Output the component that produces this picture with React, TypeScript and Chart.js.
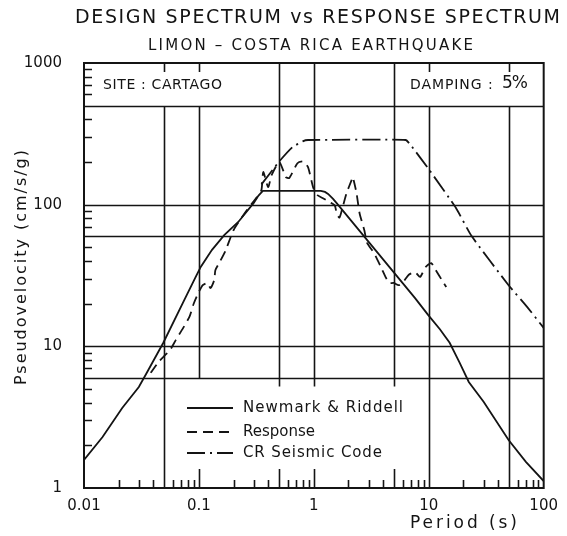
import React, { useEffect, useRef } from "react";
import { Chart, registerables } from "chart.js";

Chart.register(...registerables);

// ---------- data ----------
const newmarkPeriod = [0.01, 0.0145, 0.0215, 0.03, 0.035, 0.049, 0.0745, 0.094, 0.104, 0.13, 0.166, 0.22, 0.3, 0.33, 0.36, 1.15, 1.25, 1.33, 1.47, 1.58, 7.6, 9.9, 12.5, 15.2, 18.5, 22.3, 30, 49.5, 70, 100];
const newmarkPsv = [1.58, 2.29, 3.67, 5.16, 6.45, 10.6, 21.2, 31, 36.5, 48, 61, 75.5, 103, 116, 125, 125, 123, 119, 110, 102.6, 21.9, 16.6, 13.2, 10.6, 7.7, 5.6, 4.06, 2.18, 1.53, 1.12];

const responsePeriod = [0.038, 0.0445, 0.051, 0.056, 0.063, 0.073, 0.083, 0.09, 0.098, 0.108, 0.119, 0.126, 0.136, 0.139, 0.15, 0.17, 0.2, 0.26, 0.32, 0.35, 0.363, 0.4, 0.43, 0.5, 0.57, 0.61, 0.72, 0.81, 0.89, 0.99, 1.07, 1.2, 1.38, 1.52, 1.58, 1.67, 1.78, 1.93, 2.13, 2.18, 2.35, 2.5, 2.75, 2.9, 3.34, 3.83, 4.25, 4.5, 4.96, 5.47, 6.0, 6.7, 7.6, 8.4, 9.4, 10.5, 11.5, 13.3, 14.2];
const responsePsv = [6.5, 7.75, 8.7, 9.4, 11.1, 13.5, 16.3, 20, 23.5, 27, 28, 25.8, 29.4, 34.5, 38.7, 47, 66, 91, 113, 127, 170, 133, 162, 200, 157, 154, 196, 202, 184, 131, 117, 111, 104, 99, 87, 81, 96, 121, 149, 157, 121, 87, 66, 54, 45.5, 36.3, 30.4, 28, 28, 27, 28.5, 32, 33.4, 30.9, 36.3, 38.7, 34.5, 28.5, 26.2];

const codePeriod = [0.35, 0.495, 0.65, 0.8, 0.89, 6.3, 7.0, 10.1, 17.2, 23.6, 49.5, 72, 100];
const codePsv = [139, 200, 254, 280, 286, 286, 262, 176, 95, 60, 27, 18.9, 13.5];

const xTickValues = [0.01, 0.1, 1, 10, 100];
const xTickLabels = ["0.01", "0.1", "1", "10", "100"];
const yTickValues = [1, 10, 100, 1000];
const yTickLabels = ["1", "10", "100", "1000"];

// chart grid (as drawn on the original graph paper)
const hGridValues = [500, 100, 60, 10, 6];
const vGridPeriod = [0.05, 0.1, 0.5, 1, 5, 10, 50];
const vGridFrom = [1, 6, 5.2, 5.2, 5.2, 1, 1];
const vGridTo = [500, 500, 1000, 1000, 1000, 500, 500];
const topTickPeriod = [0.05, 0.1, 10, 50];
const bottomMajorTickPeriod = [0.1, 0.5, 1, 5];

const titleText = "DESIGN SPECTRUM vs RESPONSE SPECTRUM";
const subtitleText = "LIMON \u2013 COSTA RICA EARTHQUAKE";
const siteText = "SITE : CARTAGO";
const dampingLabel = "DAMPING : ";
const dampingValue = "5%";
const xTitle = "Period (s)";
const yTitle = "Pseudovelocity (cm/s/g)";
const seriesNames = ["Newmark & Riddell", "Response", "CR Seismic Code"];

const INK = "#141414";
const FONT = "'DejaVu Sans', 'Liberation Sans', sans-serif";
const DASH_RESP = [10, 6];
const DASH_CODE = [18, 5, 2, 5];

function fitText(ctx: CanvasRenderingContext2D, text: string, left: number, cy: number, width: number, size: number) {
  ctx.font = `${size}px ${FONT}`;
  (ctx as any).letterSpacing = "0px";
  const w = ctx.measureText(text).width;
  const n = Array.from(text).length;
  const ls = (width - w) / Math.max(1, n - 1);
  (ctx as any).letterSpacing = `${ls}px`;
  ctx.textAlign = "left";
  ctx.textBaseline = "middle";
  ctx.fillText(text, left, cy);
  (ctx as any).letterSpacing = "0px";
}

const decor = {
  id: "decor",
  beforeDatasetsDraw(chart: any) {
    const { ctx, chartArea: a, scales } = chart;
    const xs = scales.x, ys = scales.y;
    ctx.save();
    ctx.strokeStyle = INK;
    ctx.lineWidth = 1.6;
    ctx.setLineDash([]);
    ctx.beginPath();
    hGridValues.forEach((v) => {
      const y = Math.round(ys.getPixelForValue(v)) + 0.5;
      ctx.moveTo(a.left, y);
      ctx.lineTo(a.right, y);
    });
    vGridPeriod.forEach((p, i) => {
      const x = Math.round(xs.getPixelForValue(p)) + 0.5;
      ctx.moveTo(x, ys.getPixelForValue(vGridFrom[i]));
      ctx.lineTo(x, ys.getPixelForValue(vGridTo[i]));
    });
    topTickPeriod.forEach((p) => {
      const x = Math.round(xs.getPixelForValue(p)) + 0.5;
      ctx.moveTo(x, a.top);
      ctx.lineTo(x, a.top + 9);
    });
    for (let d = -2; d < 2; d++) {
      for (let m = 2; m <= 9; m++) {
        const v = m * Math.pow(10, d);
        const x = Math.round(xs.getPixelForValue(v)) + 0.5;
        ctx.moveTo(x, a.bottom);
        ctx.lineTo(x, a.bottom - 8);
      }
    }
    bottomMajorTickPeriod.forEach((p) => {
      const x = Math.round(xs.getPixelForValue(p)) + 0.5;
      ctx.moveTo(x, a.bottom);
      ctx.lineTo(x, a.bottom - 19);
    });
    for (let d = 0; d < 3; d++) {
      for (let m = 2; m <= 9; m++) {
        const y = Math.round(ys.getPixelForValue(m * Math.pow(10, d))) + 0.5;
        ctx.moveTo(a.left, y);
        ctx.lineTo(a.left + 8, y);
      }
    }
    ctx.stroke();
    ctx.lineWidth = 2;
    ctx.strokeRect(a.left, a.top, a.right - a.left, a.bottom - a.top);
    ctx.restore();
  },
  afterDraw(chart: any) {
    const { ctx } = chart;
    ctx.save();
    ctx.fillStyle = INK;
    fitText(ctx, titleText, 75, 18, 485, 19);
    fitText(ctx, subtitleText, 148, 46, 325, 15);
    fitText(ctx, siteText, 103, 85, 119, 14);
    fitText(ctx, dampingLabel, 410, 85, 88, 14);
    fitText(ctx, dampingValue, 502, 84, 26, 17);
    fitText(ctx, xTitle, 410, 524, 107, 17);
    ctx.save();
    ctx.translate(22, 268);
    ctx.rotate(-Math.PI / 2);
    fitText(ctx, yTitle, -117, 0, 235, 16);
    ctx.restore();
    const rows = [408, 432, 453];
    const dashes = [[], DASH_RESP, DASH_CODE];
    const widths = [160, 72, 139];
    rows.forEach((y, i) => {
      ctx.strokeStyle = INK;
      ctx.lineWidth = 1.8;
      ctx.setLineDash(dashes[i]);
      ctx.beginPath();
      ctx.moveTo(187, y);
      ctx.lineTo(233, y);
      ctx.stroke();
      ctx.setLineDash([]);
      fitText(ctx, seriesNames[i], 243, y, widths[i], 15);
    });
    ctx.restore();
  },
};

export default function App() {
  const ref = useRef<HTMLCanvasElement | null>(null);
  useEffect(() => {
    if (!ref.current) return;
    const mk = (xs: number[], ys: number[]) => xs.map((x, i) => ({ x, y: ys[i] }));
    const chart = new Chart(ref.current, {
      type: "line",
      data: {
        datasets: [
          { label: seriesNames[0], data: mk(newmarkPeriod, newmarkPsv), borderColor: INK, borderWidth: 1.8, pointRadius: 0, tension: 0, fill: false },
          { label: seriesNames[1], data: mk(responsePeriod, responsePsv), borderColor: INK, borderWidth: 1.8, borderDash: DASH_RESP, pointRadius: 0, tension: 0.2, fill: false },
          { label: seriesNames[2], data: mk(codePeriod, codePsv), borderColor: INK, borderWidth: 1.8, borderDash: DASH_CODE, pointRadius: 0, tension: 0.15, fill: false },
        ],
      },
      options: {
        responsive: false,
        animation: false,
        layout: { padding: { top: 63, right: 14, left: 0, bottom: 0 } },
        plugins: { legend: { display: false }, tooltip: { enabled: false }, title: { display: false } },
        scales: {
          x: {
            type: "logarithmic",
            min: 0.01,
            max: 100,
            grid: { display: false, drawTicks: false, tickLength: 0 },
            border: { display: true, color: INK, width: 2 },
            afterBuildTicks: (s: any) => { s.ticks = xTickValues.map((v) => ({ value: v, major: true })); },
            afterFit: (s: any) => { s.height = 48; },
            ticks: {
              autoSkip: false, maxRotation: 0, padding: 9, color: INK,
              font: { family: FONT, size: 15 },
              callback: (_v: any, i: number) => xTickLabels[i],
            },
          },
          y: {
            type: "logarithmic",
            min: 1,
            max: 1000,
            grid: { display: false, drawTicks: false, tickLength: 0 },
            border: { display: true, color: INK, width: 2 },
            afterBuildTicks: (s: any) => { s.ticks = yTickValues.map((v) => ({ value: v, major: true })); },
            afterFit: (s: any) => { s.width = 84; },
            ticks: {
              autoSkip: false, padding: 22, color: INK,
              font: { family: FONT, size: 15 },
              callback: (_v: any, i: number) => yTickLabels[i],
            },
          },
        },
      } as any,
      plugins: [decor],
    });
    return () => chart.destroy();
  }, []);
  return (
    <div style={{ position: "absolute", left: 0, top: 0, width: 567, height: 536, background: "#fff" }}>
      <canvas ref={ref} width={567} height={536} style={{ display: "block" }} />
    </div>
  );
}
